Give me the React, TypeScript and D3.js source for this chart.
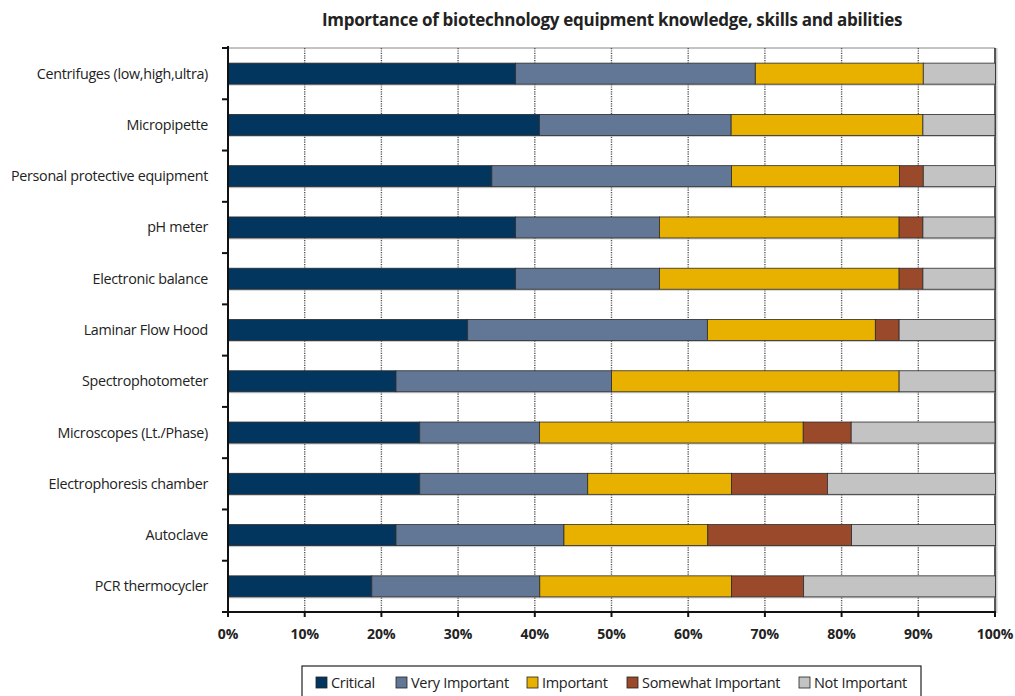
import React from "react";
import * as d3 from "d3";

const categories = [
  "Centrifuges (low,high,ultra)",
  "Micropipette",
  "Personal protective equipment",
  "pH meter",
  "Electronic balance",
  "Laminar Flow Hood",
  "Spectrophotometer",
  "Microscopes (Lt./Phase)",
  "Electrophoresis chamber",
  "Autoclave",
  "PCR thermocycler",
];

const seriesNames = ["Critical", "Very Important", "Important", "Somewhat Important", "Not Important"];
const seriesColors = ["#02365f", "#627795", "#e8b100", "#9a4a2b", "#c3c3c3"];

const critical = [37.5, 40.6, 34.4, 37.5, 37.5, 31.25, 21.9, 25.0, 25.0, 21.9, 18.75];
const veryImportant = [31.25, 25.0, 31.25, 18.75, 18.75, 31.25, 28.1, 15.6, 21.9, 21.9, 21.9];
const important = [21.9, 25.0, 21.9, 31.25, 31.25, 21.9, 37.5, 34.4, 18.75, 18.75, 25.0];
const somewhatImportant = [0, 0, 3.1, 3.1, 3.1, 3.1, 0, 6.25, 12.5, 18.75, 9.4];
const notImportant = [9.4, 9.4, 9.4, 9.4, 9.4, 12.5, 12.5, 18.75, 21.9, 18.75, 25.0];

const xTicks = [0, 10, 20, 30, 40, 50, 60, 70, 80, 90, 100];

const FONT = "'Open Sans', 'DejaVu Sans', sans-serif";

export default function App() {
  const W = 1015, H = 696;
  const left = 228, right = 995, top = 48, bottom = 612;
  const x = d3.scaleLinear().domain([0, 100]).range([left, right]);
  const y = d3.scaleBand().domain(categories).range([top, bottom]).paddingInner(0.59).paddingOuter(0.295);
  const series = [critical, veryImportant, important, somewhatImportant, notImportant];
  const rows = categories.map((c, i) => {
    const o: any = { cat: c };
    seriesNames.forEach((s, k) => (o[s] = series[k][i]));
    return o;
  });
  const stacked = d3.stack().keys(seriesNames)(rows);
  const step = (bottom - top) / categories.length;
  const boundaries = d3.range(categories.length + 1).map((i) => top + i * step);

  const legendX = [316, 396, 527, 627, 799];

  return (
    <svg width={W} height={H} style={{ position: "absolute", left: 0, top: 0, background: "#fff" }}>
      <rect x={0} y={0} width={W} height={H} fill="#fff" />
      <text x={612} y={26} textAnchor="middle" fontFamily={FONT} fontWeight={700} fontSize={17} fill="#222" letterSpacing={-0.3}>
        Importance of biotechnology equipment knowledge, skills and abilities
      </text>
      {/* frame */}
      <line x1={left} x2={right} y1={top} y2={top} stroke="#888" strokeWidth={1} />
      <line x1={right + 1.5} x2={right + 1.5} y1={top} y2={bottom + 1} stroke="#ccc" strokeWidth={2} />
      <line x1={right} x2={right} y1={top} y2={bottom} stroke="#222" strokeWidth={1.5} />
      {/* gridlines */}
      {xTicks.slice(1, -1).map((t) => (
        <line key={t} x1={x(t)} x2={x(t)} y1={top} y2={bottom} stroke="#555" strokeWidth={1.4} strokeDasharray="1.2,1.2" />
      ))}
      {/* bars */}
      {stacked.map((s, k) => (
        <g key={s.key}>
          {s.map((d, i) =>
            d[1] - d[0] > 0 ? (
              <g key={i}>
                <rect x={x(d[0])} y={(y(categories[i]) as number) + 1.5} width={x(d[1]) - x(d[0])} height={y.bandwidth()} fill="#999" opacity={0.5} />
                <rect x={x(d[0])} y={y(categories[i]) as number} width={x(d[1]) - x(d[0])} height={y.bandwidth()} fill={seriesColors[k]} stroke="#2a2a2a" strokeWidth={0.8} />
              </g>
            ) : null
          )}
        </g>
      ))}
      {/* axes */}
      <line x1={left} x2={left} y1={top - 2} y2={bottom + 1} stroke="#111" strokeWidth={2} />
      {boundaries.map((b, i) => (
        <line key={i} x1={left - 6} x2={left} y1={b} y2={b} stroke="#111" strokeWidth={2} />
      ))}
      <line x1={left - 1} x2={right + 1} y1={bottom} y2={bottom} stroke="#111" strokeWidth={2} />
      {xTicks.map((t) => (
        <g key={t}>
          <line x1={x(t)} x2={x(t)} y1={bottom} y2={bottom + 5} stroke="#111" strokeWidth={2} />
          <text x={x(t)} y={639} textAnchor="middle" fontFamily={FONT} fontWeight={700} fontSize={14} fill="#222">
            {t}%
          </text>
        </g>
      ))}
      {categories.map((c) => (
        <text key={c} x={208} y={(y(c) as number) + y.bandwidth() / 2 + 5} textAnchor="end" fontFamily={FONT} fontSize={14.3} fill="#222" letterSpacing={-0.3}>
          {c}
        </text>
      ))}
      {/* legend */}
      <rect x={302} y={666} width={619} height={40} fill="#fff" stroke="#222" strokeWidth={1.2} />
      {seriesNames.map((s, k) => (
        <g key={s}>
          <rect x={legendX[k]} y={677} width={11} height={11} fill={seriesColors[k]} stroke="#222" strokeWidth={0.8} />
          <text x={legendX[k] + 15} y={688} fontFamily={FONT} fontSize={14.5} fill="#222" letterSpacing={-0.3}>
            {s}
          </text>
        </g>
      ))}
    </svg>
  );
}
